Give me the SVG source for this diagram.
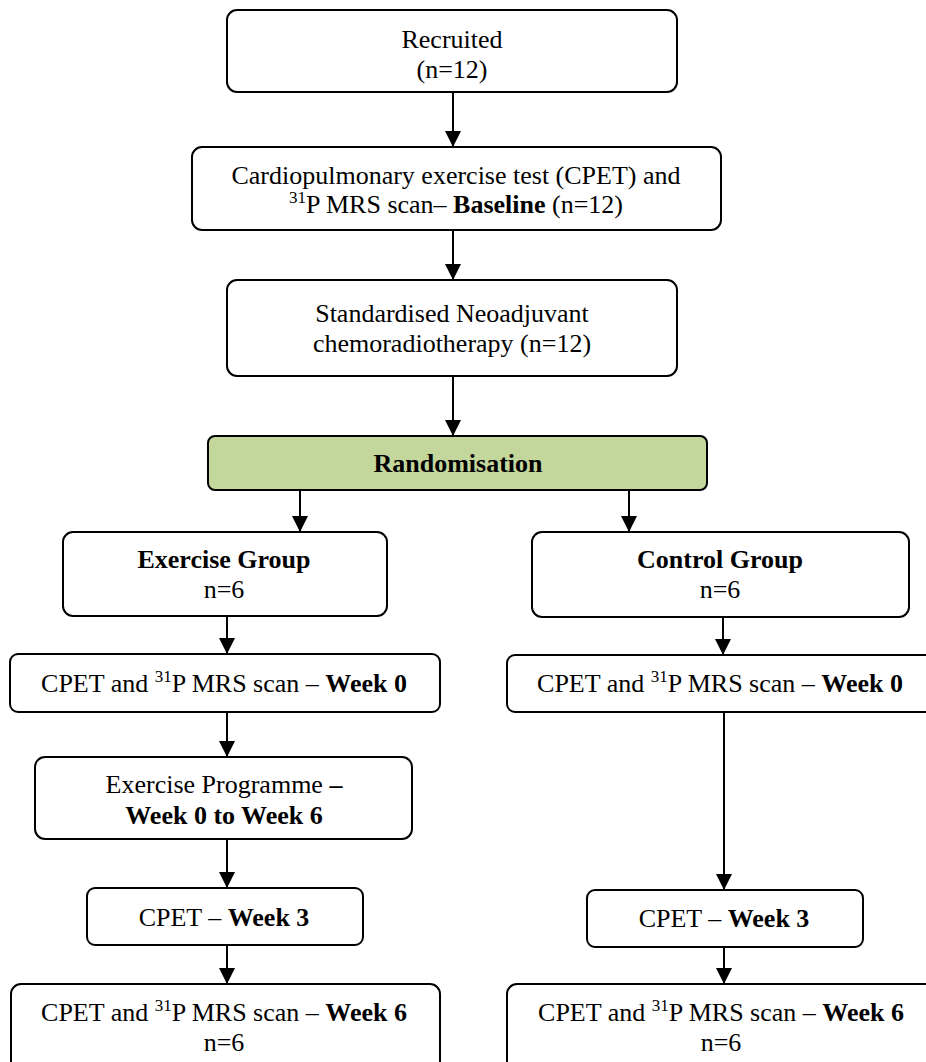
<svg xmlns="http://www.w3.org/2000/svg" width="926" height="1062" viewBox="0 0 926 1062">
<style>
.box{fill:#fff;stroke:#000;stroke-width:2}
.green{fill:#c3d69b;stroke:#000;stroke-width:2}
text{font-family:"Liberation Serif","Times New Roman",serif;font-size:26px;fill:#000;text-anchor:middle}
.b{font-weight:bold}
.sup{font-size:17px}
.conn line{stroke:#000;stroke-width:2}
</style>
<defs>
<marker id="ah" markerUnits="userSpaceOnUse" markerWidth="16" markerHeight="16" viewBox="0 0 16 16" refX="16" refY="8" orient="auto">
<path d="M0,0 L16,8 L0,16 z" fill="#000"/>
</marker>
</defs>
<rect width="926" height="1062" fill="#fff"/>

<g id="recruited">
<rect class="box" x="227" y="10" width="450" height="82" rx="10"/>
<text x="452" y="48">Recruited</text>
<text x="452" y="78">(n=12)</text>
</g>

<g id="baseline">
<rect class="box" x="192" y="147" width="529" height="83" rx="10"/>
<text x="456" y="184">Cardiopulmonary exercise test (CPET) and</text>
<text x="456" y="213"><tspan class="sup" dy="-10">31</tspan><tspan dy="10">P MRS scan– </tspan><tspan class="b">Baseline</tspan> (n=12)</text>
</g>

<g id="chemo">
<rect class="box" x="227" y="280" width="450" height="96" rx="10"/>
<text x="452" y="322">Standardised Neoadjuvant</text>
<text x="452" y="352">chemoradiotherapy (n=12)</text>
</g>

<g id="randomisation">
<rect class="green" x="208" y="436" width="499" height="54" rx="7"/>
<text class="b" x="458" y="472">Randomisation</text>
</g>

<g id="exercise-group">
<rect class="box" x="63" y="532" width="324" height="84" rx="10"/>
<text class="b" x="224" y="568">Exercise Group</text>
<text x="224" y="598">n=6</text>
</g>

<g id="control-group">
<rect class="box" x="532" y="532" width="377" height="85" rx="10"/>
<text class="b" x="720" y="568">Control Group</text>
<text x="720" y="598">n=6</text>
</g>

<g id="ex-week0">
<rect class="box" x="10" y="654" width="430" height="58" rx="8"/>
<text x="224" y="692">CPET and <tspan class="sup" dy="-10">31</tspan><tspan dy="10">P MRS scan – </tspan><tspan class="b">Week 0</tspan></text>
</g>

<g id="ctl-week0">
<rect class="box" x="507" y="655" width="430" height="57" rx="8"/>
<text x="720" y="692">CPET and <tspan class="sup" dy="-10">31</tspan><tspan dy="10">P MRS scan – </tspan><tspan class="b">Week 0</tspan></text>
</g>

<g id="ex-programme">
<rect class="box" x="35" y="757" width="377" height="82" rx="10"/>
<text x="224" y="793">Exercise Programme <tspan class="b">–</tspan></text>
<text class="b" x="224" y="824">Week 0 to Week 6</text>
</g>

<g id="ex-week3">
<rect class="box" x="87" y="888" width="276" height="57" rx="8"/>
<text x="224" y="926">CPET – <tspan class="b">Week 3</tspan></text>
</g>

<g id="ctl-week3">
<rect class="box" x="587" y="890" width="276" height="57" rx="8"/>
<text x="724" y="927">CPET – <tspan class="b">Week 3</tspan></text>
</g>

<g id="ex-week6">
<rect class="box" x="11" y="984" width="429" height="95" rx="10"/>
<text x="224" y="1021">CPET and <tspan class="sup" dy="-10">31</tspan><tspan dy="10">P MRS scan – </tspan><tspan class="b">Week 6</tspan></text>
<text x="224" y="1051">n=6</text>
</g>

<g id="ctl-week6">
<rect class="box" x="507" y="984" width="430" height="95" rx="10"/>
<text x="721" y="1021">CPET and <tspan class="sup" dy="-10">31</tspan><tspan dy="10">P MRS scan – </tspan><tspan class="b">Week 6</tspan></text>
<text x="721" y="1051">n=6</text>
</g>

<g id="connectors" class="conn">
<line x1="453" y1="93" x2="453" y2="147" marker-end="url(#ah)"/>
<line x1="453" y1="231" x2="453" y2="280" marker-end="url(#ah)"/>
<line x1="453" y1="377" x2="453" y2="436" marker-end="url(#ah)"/>
<line x1="300" y1="491" x2="300" y2="532" marker-end="url(#ah)"/>
<line x1="629" y1="491" x2="629" y2="532" marker-end="url(#ah)"/>
<line x1="227" y1="617" x2="227" y2="654" marker-end="url(#ah)"/>
<line x1="723" y1="618" x2="723" y2="655" marker-end="url(#ah)"/>
<line x1="227" y1="713" x2="227" y2="757" marker-end="url(#ah)"/>
<line x1="724" y1="713" x2="724" y2="890" marker-end="url(#ah)"/>
<line x1="227" y1="840" x2="227" y2="888" marker-end="url(#ah)"/>
<line x1="227" y1="946" x2="227" y2="984" marker-end="url(#ah)"/>
<line x1="724" y1="948" x2="724" y2="984" marker-end="url(#ah)"/>
</g>
</svg>
